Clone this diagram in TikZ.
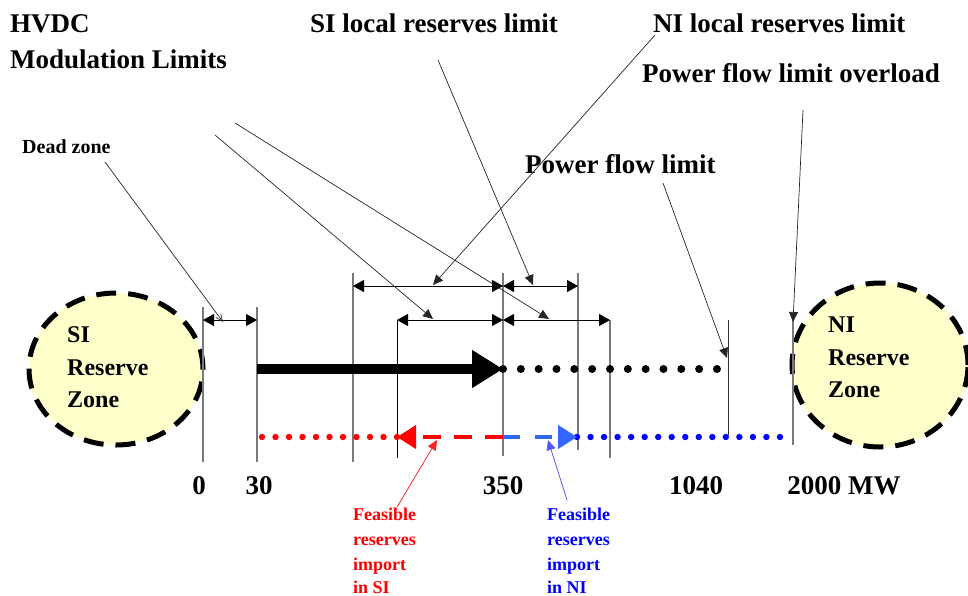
\documentclass[tikz,border=0pt]{standalone}
\usepackage{fontspec}
\setmainfont{Liberation Serif}
\usetikzlibrary{arrows.meta,shapes.geometric}

\definecolor{zonefill}{HTML}{FFFFCC}
\definecolor{tickgray}{HTML}{7A7A7A}
\definecolor{flowred}{HTML}{FF0000}
\definecolor{flowblue}{HTML}{0000FF}
\definecolor{paleblue}{HTML}{3366FF}
\definecolor{leadred}{HTML}{FF2020}
\definecolor{leadblue}{HTML}{5555FF}

\begin{document}
\begin{tikzpicture}[x=1pt,y=-1pt,
  txt/.style={inner sep=0pt, anchor=base west, font=\bfseries\fontsize{#1}{#1}\selectfont},
  num/.style={inner sep=0pt, anchor=base, font=\bfseries\fontsize{27}{27}\selectfont},
  zone/.style={ellipse, draw=black, fill=zonefill, line width=5pt,
    dash pattern=on 20pt off 12pt, inner sep=0pt},
  tick/.style={draw=tickgray, line width=1.2pt},
  dimline/.style={draw=black, line width=0.9pt,
    {Triangle[length=11pt,width=12pt]}-{Triangle[length=11pt,width=12pt]}},
  leader/.style={draw=black!85, line width=0.7pt, -{Triangle[length=10pt,width=9pt]}},
  bigflow/.style={line width=10pt, -{Triangle[length=31pt,width=36pt]}},
]
\useasboundingbox (0,0) rectangle (968,595);

% reserve zones
\node[zone, minimum width=174pt, minimum height=152pt] (sizone) at (116,369) {};
\node[zone, minimum width=176pt, minimum height=164pt] (nizone) at (880,365) {};

% scale ticks
\draw[tick] (203,307) -- (203,462);
\draw[tick] (257,307) -- (257,462);
\draw[tick] (353,273) -- (353,462);
\draw[draw=black, line width=1pt] (397,320) -- (397,458);
\draw[tick] (503,273) -- (503,456);
\draw[tick] (578,273) -- (578,450);
\draw[tick] (610,320) -- (610,458);
\draw[draw=black!80, line width=1pt] (728,320) -- (728,435);
\draw[tick] (793,318) -- (793,445);

% dimension arrows
\draw[dimline] (203,320) -- (257,320);
\draw[dimline] (353,286) -- (503,286);
\draw[dimline] (503,286) -- (578,286);
\draw[dimline] (397,320) -- (503,320);
\draw[dimline] (503,320) -- (610,320);

% power flow towards NI
\foreach \k in {0,...,12} \fill[black] (503+17.83*\k,369) circle (4pt);
\draw[bigflow] (257,369) -- (503,369);

% feasible reserves import lines
\foreach \k in {0,...,10} \fill[flowred] (262+13.5*\k,437) circle (3.2pt);
\foreach \k in {0,...,15} \fill[flowblue] (577+13.53*\k,437) circle (3.2pt);
\draw[flowred, line width=4pt, dash pattern=on 18pt off 13pt,
  -{Triangle[length=19pt,width=23pt]}] (503,437) -- (397,437);
\draw[paleblue, line width=4pt, dash pattern=on 17pt off 15pt,
  -{Triangle[length=19pt,width=23pt]}] (503,437) -- (577,437);

% labels
\node[txt=27] (hvdc) at (10,32) {HVDC};
\node[txt=27] (modlim) at (10,68) {Modulation Limits};
\node[txt=27] (silocal) at (310,32) {SI local reserves limit};
\node[txt=27] (nilocal) at (653,32) {NI local reserves limit};
\node[txt=27] (overload) at (642,82) {Power flow limit overload};
\node[txt=27] (pflimit) at (525,173) {Power flow limit};
\node[txt=20] (dead) at (22,153) {Dead zone};

\node[txt=24] (si1) at (67,342) {SI};
\node[txt=24] (si2) at (67,375) {Reserve};
\node[txt=24] (si3) at (67,407) {Zone};
\node[txt=24] (ni1) at (828,332) {NI};
\node[txt=24] (ni2) at (828,365) {Reserve};
\node[txt=24] (ni3) at (828,397) {Zone};

\node[num] (n0) at (199,494) {0};
\node[num] (n30) at (259,494) {30};
\node[num] (n350) at (503,494) {350};
\node[num] (n1040) at (696,494) {1040};
\node[num] (n2000) at (844,494) {2000 MW};

\begin{scope}[flowred]
\node[txt=18] (fs1) at (353,520) {Feasible};
\node[txt=18] (fs2) at (353,545) {reserves};
\node[txt=18] (fs3) at (353,570) {import};
\node[txt=18] (fs4) at (353,593) {in SI};
\end{scope}
\begin{scope}[flowblue]
\node[txt=18] (fn1) at (547,520) {Feasible};
\node[txt=18] (fn2) at (547,545) {reserves};
\node[txt=18] (fn3) at (547,570) {import};
\node[txt=18] (fn4) at (547,593) {in NI};
\end{scope}

% leader lines
\coordinate (deadS) at (105,162);  \coordinate (deadE) at (223,322);
\coordinate (modaS) at (215,135);  \coordinate (modaE) at (433,319);
\coordinate (modbS) at (235,123);  \coordinate (modbE) at (549,319);
\coordinate (silS) at (438,60);    \coordinate (silE) at (533,285);
\coordinate (nilS) at (655,35);    \coordinate (nilE) at (433,285);
\coordinate (pflS) at (663,183);   \coordinate (pflE) at (727,358);
\coordinate (ovlS) at (803,110);   \coordinate (ovlE) at (793,322);
\coordinate (fsS) at (397,507);    \coordinate (fsE) at (437,440);
\coordinate (fnS) at (567,500);    \coordinate (fnE) at (548,440);

\draw[draw=black!85, line width=0.7pt, -{Straight Barb[length=7pt,width=6pt]}] (deadS) -- (deadE);
\draw[leader] (modaS) -- (modaE);
\draw[leader] (modbS) -- (modbE);
\draw[leader] (silS) -- (silE);
\draw[leader] (nilS) -- (nilE);
\draw[leader] (pflS) -- (pflE);
\draw[leader] (ovlS) -- (ovlE);
\draw[leader, draw=leadred, fill=flowred] (fsS) -- (fsE);
\draw[leader, draw=leadblue, fill=flowblue] (fnS) -- (fnE);
\end{tikzpicture}
\end{document}
